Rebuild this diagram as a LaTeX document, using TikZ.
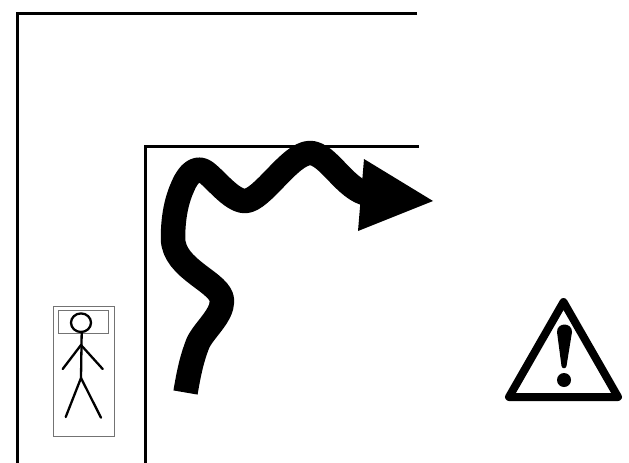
\documentclass[tikz,border=0pt]{standalone}
\tikzset{
  wall/.style={line width=3pt,line cap=butt,line join=miter},
  stick/.style={line width=2.3pt,line cap=round,line join=round},
  frame/.style={draw=black!55,line width=0.8pt}
}
\begin{document}
\begin{tikzpicture}[x=1pt,y=-1pt]
\useasboundingbox[fill=white] (0,0) rectangle (629,463);
% walls
\draw[wall] (417,13) -- (17,13) -- (17,463);
\draw[wall] (419,146) -- (145,146) -- (145,463);
% route
\draw[line width=24.5pt,line join=round] (185.5,392.5)
  .. controls (189,372) and (192,358) .. (198,343)
  .. controls (204,330) and (222,316) .. (222,301)
  .. controls (222,282) and (173,270) .. (173,238)
  .. controls (173,216) and (177,199) .. (183,186)
  .. controls (189,172) and (197,167) .. (204,171)
  .. controls (214,177) and (231,201) .. (245,201)
  .. controls (262,201) and (290,153) .. (310,153)
  .. controls (328,153) and (345,190) .. (368,194);
\fill (364,159) -- (433,201) -- (358,231) -- cycle;
% warning sign
\draw[line width=8pt,line join=round] (563.5,302) -- (618,397) -- (509,397) -- cycle;
\fill (557,332) .. controls (557,322) and (572,322) .. (572,332)
  -- (566.5,366) .. controls (566,369) and (562,369) .. (561.5,366) -- cycle;
\fill (564,380) circle[radius=7];
% person on bed
\draw[frame] (53.3,306) rectangle (114,436);
\draw[frame] (58.3,310.3) rectangle (108.3,333.3);
\draw[stick] (81,322.7) ellipse[x radius=10,y radius=9.3];
\draw[stick] (81.7,332) -- (81,378);
\draw[stick] (62.7,369) -- (81,345) -- (102.7,369);
\draw[stick] (65.7,417) -- (81,378) -- (101,417.7);
\end{tikzpicture}
\end{document}
